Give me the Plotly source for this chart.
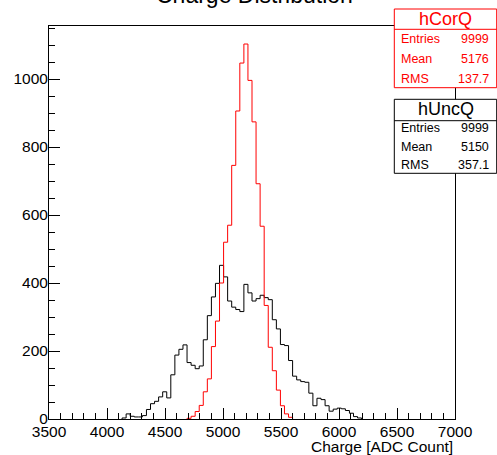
import plotly.graph_objects as go

# ---------------- data ----------------
bin_width = 35
x_min, x_max = 3500, 7000

red_first_edge = 4690   # hCorQ
red_counts = [2, 8, 22, 40, 80, 118, 213, 288, 400, 520, 570, 746, 906, 1047,
              1103, 996, 874, 692, 567, 334, 211, 142, 85, 39, 15, 5]

black_first_edge = 4130  # hUncQ
black_counts = [3, 15, 8, 6, 6, 10, 28, 45, 52, 65, 80, 62, 130, 188, 205, 218,
                166, 158, 148, 156, 233, 304, 359, 399, 452, 418, 347, 329, 322,
                316, 396, 371, 347, 354, 364, 357, 351, 292, 265, 219, 216, 172,
                126, 115, 110, 108, 76, 39, 61, 57, 39, 23, 29, 32, 30, 25, 17, 7, 3]

stats_red = {"name": "hCorQ", "Entries": "9999", "Mean": "5176", "RMS": "137.7"}
stats_black = {"name": "hUncQ", "Entries": "9999", "Mean": "5150", "RMS": "357.1"}

title_text = "Charge Distribution"
x_title = "Charge [ADC Count]"

# ---------------- figure ----------------
W, H = 497, 455
ML, MR, MT, MB = 49, 42, 26, 36
PW, PH = W - ML - MR, H - MT - MB
FONT = "Liberation Sans, Arial, Helvetica, sans-serif"


def px2x(px):
    return (px - ML) / PW


def px2y(py):
    return (H - MB - py) / PH


def step_xy(first_edge, counts):
    edges = [first_edge + i * bin_width for i in range(len(counts) + 1)]
    xs = [edges[0]] + edges
    ys = [0] + list(counts) + [0]
    return xs, ys


fig = go.Figure()
bx, by = step_xy(black_first_edge, black_counts)
fig.add_trace(go.Scatter(x=bx, y=by, mode="lines", line=dict(color="black", width=1, shape="hv"),
                         hoverinfo="skip"))
rx, ry = step_xy(red_first_edge, red_counts)
fig.add_trace(go.Scatter(x=rx, y=ry, mode="lines", line=dict(color="#ff0000", width=1, shape="hv"),
                         hoverinfo="skip"))

axis_common = dict(ticks="inside", tickcolor="black", showline=True, linecolor="black",
                   linewidth=1, mirror=True, showgrid=False, zeroline=False,
                   tickfont=dict(family=FONT, size=15.5, color="black"))
fig.update_xaxes(range=[x_min, x_max], tick0=3500, dtick=500, ticklen=11,
                 ticklabelstandoff=-2,
                 minor=dict(dtick=100, ticks="inside", ticklen=6, tickcolor="black"),
                 **axis_common)
fig.update_yaxes(range=[0, 1156], tick0=0, dtick=200, ticklen=11,
                 ticklabelstandoff=-3,
                 minor=dict(dtick=50, ticks="inside", ticklen=6, tickcolor="black"),
                 **axis_common)

shapes = []
annotations = []

# title (clipped at the top, as in the reference)
annotations.append(dict(text=title_text, x=px2x(254), y=px2y(-5), xref="paper", yref="paper",
                        xanchor="center", yanchor="middle", showarrow=False,
                        font=dict(family=FONT, size=23, color="black")))
# x axis title
annotations.append(dict(text=x_title, x=px2x(455), y=px2y(446.5), xref="paper", yref="paper",
                        xanchor="right", yanchor="middle", showarrow=False,
                        font=dict(family=FONT, size=15.5, color="black")))


def stat_box(stats, color, top, sep, bottom, rows_y, title_y):
    left, right = 394.3, 496.7
    shapes.append(dict(type="rect", xref="paper", yref="paper", x0=px2x(left), x1=px2x(right),
                       y0=px2y(bottom), y1=px2y(top), fillcolor="white",
                       line=dict(color=color, width=1), layer="above"))
    shapes.append(dict(type="line", xref="paper", yref="paper", x0=px2x(left), x1=px2x(right),
                       y0=px2y(sep), y1=px2y(sep), line=dict(color=color, width=1), layer="above"))
    annotations.append(dict(text=stats["name"], x=px2x((left + right) / 2), y=px2y(title_y),
                            xref="paper", yref="paper", xanchor="center", yanchor="middle",
                            showarrow=False, font=dict(family=FONT, size=18, color=color)))
    for key, yy in zip(["Entries", "Mean", "RMS"], rows_y):
        annotations.append(dict(text=key, x=px2x(399.3), y=px2y(yy), xref="paper", yref="paper",
                                xanchor="left", yanchor="middle", showarrow=False,
                                font=dict(family=FONT, size=12.5, color=color)))
        annotations.append(dict(text=stats[key], x=px2x(490.5), y=px2y(yy), xref="paper",
                                yref="paper", xanchor="right", yanchor="middle", showarrow=False,
                                font=dict(family=FONT, size=12.5, color=color)))


stat_box(stats_red, "#ff0000", 9, 29.3, 87.7, [39, 59, 78.7], 19)
stat_box(stats_black, "black", 99.3, 120.7, 173.3, [128.3, 146.7, 165], 109.3)

fig.update_layout(width=W, height=H, margin=dict(l=ML, r=MR, t=MT, b=MB),
                  plot_bgcolor="white", paper_bgcolor="white", showlegend=False,
                  shapes=shapes, annotations=annotations)

fig.write_html("out.html", config={"displayModeBar": False},
               post_script="document.body.style.margin='0';document.body.style.padding='0';")
